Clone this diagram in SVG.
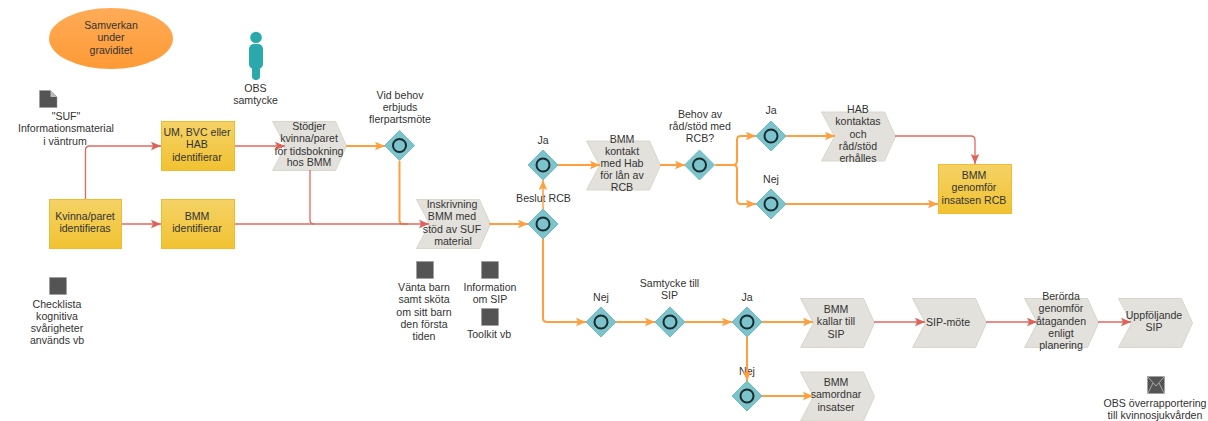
<svg xmlns="http://www.w3.org/2000/svg" width="1208" height="421" viewBox="0 0 1208 421">
<style>
text{font-family:"Liberation Sans",Arial,sans-serif;font-size:10.6px;fill:#333;text-anchor:middle}
.box{fill:url(#gy);stroke:#f2bb2e;stroke-width:1}
.chev{fill:#e3e1dc;stroke:#d9d6cc;stroke-width:1}
.dia{fill:#7cc3cb;stroke:#6fbcc4;stroke-width:1}
.ring{fill:none;stroke:#1a2a2e;stroke-width:2}
.ico{fill:#545454;stroke:#999;stroke-width:.5}
.o{fill:none;stroke:#ff9f3f;stroke-width:2}
.r{fill:none;stroke:#e0695f;stroke-width:1.300}
</style>
<defs>
<linearGradient id="gy" x1="0" y1="0" x2="0" y2="1"><stop offset="0" stop-color="#f4d266"/><stop offset="1" stop-color="#f1c231"/></linearGradient>
<linearGradient id="go" x1="0" y1="0" x2="0" y2="1"><stop offset="0" stop-color="#ffab57"/><stop offset="1" stop-color="#fd9a35"/></linearGradient>
<marker id="mo" markerUnits="userSpaceOnUse" markerWidth="11" markerHeight="10" refX="10" refY="5" orient="auto"><path d="M0 .8L10 5L0 9.200L2 5Z" fill="#ff9f3f"/></marker>
<marker id="mr" markerUnits="userSpaceOnUse" markerWidth="11" markerHeight="10" refX="10" refY="5" orient="auto"><path d="M0 .8L10 5L0 9.200L2 5Z" fill="#dd6259"/></marker>
<path id="ch" class="chev" d="M0 0H63L74 24.500L63 49H0L13 24.500Z"/>
<g id="di"><path class="dia" d="M0 -15L15 0L0 15L-15 0Z"/><circle class="ring" r="6.500"/></g>
</defs>

<g id="n-samverkan"><ellipse cx="111" cy="38.500" rx="62" ry="30.500" fill="url(#go)"/><text x="111" y="29">Samverkan</text><text x="111" y="41">under</text><text x="111" y="54">graviditet</text></g>
<g id="n-obs"><circle cx="256" cy="37.500" r="5.800" fill="#2aa9ad"/><rect x="249" y="44" width="14" height="25" rx="5" fill="#2aa9ad"/><rect x="252" y="55" width="8" height="25" rx="4" fill="#2aa9ad"/><text x="255.500" y="92">OBS</text><text x="255.500" y="104">samtycke</text></g>
<g id="n-suf"><path class="ico" d="M39.500 90.500H50.500L57 97V107.500H39.500Z"/><path d="M50.500 90.500V97H57Z" fill="#bbb"/><text x="66" y="120">"SUF"</text><text x="66" y="132">Informationsmaterial</text><text x="65" y="145">i väntrum</text></g>
<g id="n-um"><rect class="box" x="161.500" y="121.500" width="73" height="49"/><text x="197" y="136">UM, BVC eller</text><text x="197" y="148">HAB</text><text x="197" y="161">identifierar</text></g>
<g id="n-kvinna"><rect class="box" x="49.500" y="199.500" width="72" height="49"/><text x="85" y="220">Kvinna/paret</text><text x="85" y="232">identifieras</text></g>
<g id="n-bmm"><rect class="box" x="161.500" y="199.500" width="73" height="49"/><text x="197" y="220">BMM</text><text x="197" y="232">identifierar</text></g>
<g id="n-check"><rect class="ico" x="49.500" y="277.500" width="17" height="17"/><text x="57" y="308">Checklista</text><text x="57" y="320">kognitiva</text><text x="57" y="332">svårigheter</text><text x="57" y="344">används vb</text></g>
<g id="n-stodjer"><use href="#ch" x="272.500" y="121.500"/><text x="309" y="130">Stödjer</text><text x="309" y="142">kvinna/paret</text><text x="309" y="155">för tidsbokning</text><text x="309" y="166">hos BMM</text></g>
<g id="n-vid"><use href="#di" x="399.500" y="145.500"/><text x="400" y="99">Vid behov</text><text x="400" y="111">erbjuds</text><text x="400" y="123">flerpartsmöte</text></g>
<g id="n-insk"><use href="#ch" x="416.500" y="199.500"/><text x="452" y="208">Inskrivning</text><text x="452" y="220">BMM med</text><text x="452" y="233">stöd av SUF</text><text x="453" y="245">material</text></g>
<g id="n-ja1"><use href="#di" x="543" y="165"/><text x="543" y="144">Ja</text></g>
<g id="n-beslut"><use href="#di" x="543" y="224"/><text x="543.500" y="202">Beslut RCB</text></g>
<g id="n-kontakt"><use href="#ch" x="586.500" y="141"/><text x="622" y="143">BMM</text><text x="622" y="155">kontakt</text><text x="622" y="167">med Hab</text><text x="622" y="179">för lån av</text><text x="622" y="191">RCB</text></g>
<g id="n-behov"><use href="#di" x="699.500" y="165"/><text x="700" y="118">Behov av</text><text x="700" y="130">råd/stöd med</text><text x="700" y="142">RCB?</text></g>
<g id="n-ja2"><use href="#di" x="771" y="136"/><text x="771" y="114">Ja</text></g>
<g id="n-nej2"><use href="#di" x="771" y="204"/><text x="771" y="183">Nej</text></g>
<g id="n-hab"><use href="#ch" x="821.500" y="112"/><text x="858" y="113">HAB</text><text x="858" y="125">kontaktas</text><text x="858" y="138">och</text><text x="858" y="150">råd/stöd</text><text x="858" y="162">erhålles</text></g>
<g id="n-genomfor"><rect class="box" x="938.500" y="164.500" width="73" height="49"/><text x="974" y="179">BMM</text><text x="974" y="191">genomför</text><text x="974" y="204">insatsen RCB</text></g>
<g id="n-vanta"><rect class="ico" x="416.500" y="261.500" width="17" height="17"/><text x="424" y="291">Vänta barn</text><text x="424" y="303">samt sköta</text><text x="424" y="316">om sitt barn</text><text x="424" y="328">den första</text><text x="424" y="340">tiden</text></g>
<g id="n-info"><rect class="ico" x="481.500" y="261.500" width="17" height="17"/><text x="490" y="291">Information</text><text x="490" y="303">om SIP</text></g>
<g id="n-toolkit"><rect class="ico" x="481.500" y="308.500" width="17" height="17"/><text x="489" y="338">Toolkit vb</text></g>
<g id="n-nej1"><use href="#di" x="601" y="322"/><text x="601" y="301">Nej</text></g>
<g id="n-samtycke"><use href="#di" x="670" y="322"/><text x="669.500" y="287">Samtycke till</text><text x="669.500" y="299">SIP</text></g>
<g id="n-ja3"><use href="#di" x="747" y="322"/><text x="747" y="301">Ja</text></g>
<g id="n-nej3"><use href="#di" x="747" y="396"/><text x="747" y="375">Nej</text></g>
<g id="n-kallar"><use href="#ch" x="800.500" y="298.500"/><text x="836" y="313">BMM</text><text x="836" y="325">kallar till</text><text x="836" y="338">SIP</text></g>
<g id="n-samordnar"><use href="#ch" x="800.500" y="372"/><text x="836" y="386">BMM</text><text x="836" y="398">samordnar</text><text x="836" y="411">insatser</text></g>
<g id="n-sip"><use href="#ch" x="912.500" y="298.500"/><text x="948" y="326">SIP-möte</text></g>
<g id="n-berorda"><use href="#ch" x="1024.500" y="298.500"/><text x="1061" y="300">Berörda</text><text x="1061" y="312">genomför</text><text x="1061" y="325">åtaganden</text><text x="1061" y="337">enligt</text><text x="1061" y="349">planering</text></g>
<g id="n-uppf"><use href="#ch" x="1118.500" y="298.500"/><text x="1154" y="319">Uppföljande</text><text x="1154" y="331">SIP</text></g>
<g id="n-mail"><rect class="ico" x="1147.500" y="376.500" width="17" height="17"/><path d="M1148 377L1156 386L1164 377M1148 393L1153 383M1164 393L1159 383" fill="none" stroke="#ccc" stroke-width=".7"/><text x="1155" y="407">OBS överrapportering</text><text x="1155" y="419">till kvinnosjukvården</text></g>

<g id="connectors">
<path class="r" marker-end="url(#mr)" d="M85.500 199V150Q85.500 146 90 146H161"/>
<path class="r" marker-end="url(#mr)" d="M235 146H285"/>
<path class="r" marker-end="url(#mr)" d="M122 224H161"/>
<path class="r" d="M310 170V220Q310 224 314 224"/>
<path class="o" d="M399.500 161V220Q399.500 224 403 224H408"/>
<path class="r" marker-end="url(#mr)" d="M235 224H429"/>
<path class="o" marker-end="url(#mo)" d="M346 146H385"/>
<path class="o" marker-end="url(#mo)" d="M489 224H528"/>
<path class="o" marker-end="url(#mo)" d="M543 209V180" style="stroke-width:1.500"/>
<path class="o" marker-end="url(#mo)" d="M543 239V318Q543 322 547 322H586"/>
<path class="o" marker-end="url(#mo)" d="M558 165H600"/>
<path class="o" marker-end="url(#mo)" d="M660 165H685"/>
<path class="o" marker-end="url(#mo)" d="M715 165H733Q737 165 737 161V140Q737 136 741 136H756"/>
<path class="o" marker-end="url(#mo)" d="M733 165Q737 165 737 169V200Q737 204 741 204H756"/>
<path class="o" marker-end="url(#mo)" d="M786 136H835"/>
<path class="r" marker-end="url(#mr)" d="M895 136H971Q975 136 975 140V164"/>
<path class="o" marker-end="url(#mo)" d="M786 204H938"/>
<path class="o" marker-end="url(#mo)" d="M616 322H655"/>
<path class="o" marker-end="url(#mo)" d="M685 322H732"/>
<path class="o" marker-end="url(#mo)" d="M762 322H813"/>
<path class="o" marker-end="url(#mo)" d="M747 337V381"/>
<path class="o" marker-end="url(#mo)" d="M762 396H813"/>
<path class="r" marker-end="url(#mr)" style="stroke-width:1.500" d="M874 322H925"/>
<path class="r" marker-end="url(#mr)" style="stroke-width:1.500" d="M986 322H1037"/>
<path class="r" marker-end="url(#mr)" style="stroke-width:1.500" d="M1098 322H1131"/>
</g>
</svg>
